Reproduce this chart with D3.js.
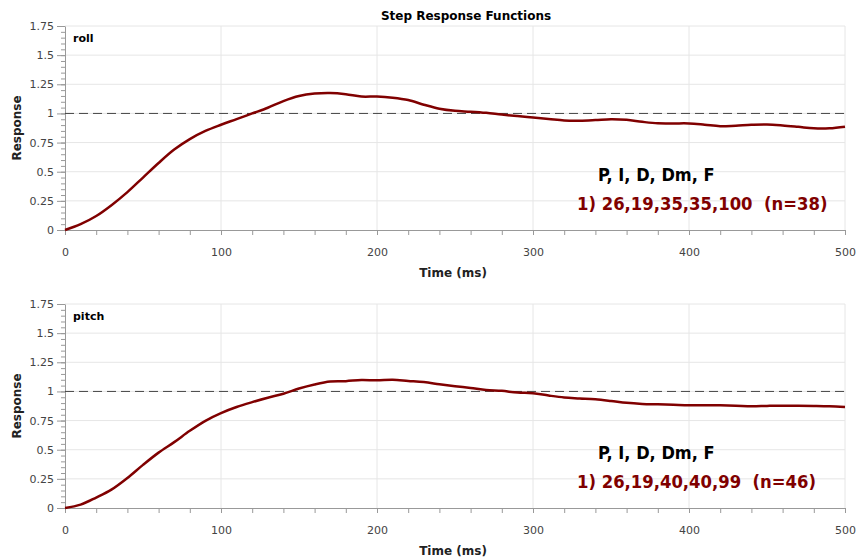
<!DOCTYPE html>
<html>
<head>
<meta charset="utf-8">
<script src="https://cdn.jsdelivr.net/npm/d3@7"></script>
<style>
  body { margin: 0; background: #fff; }
  svg { display: block; font-family: "DejaVu Sans", Verdana, sans-serif; }
</style>
</head>
<body>
<div id="chart"></div>
<script>
// data
var timeMs = d3.range(0, 501, 10);

var rollResponse = [
  0, 0.05, 0.12, 0.215, 0.325, 0.45, 0.575, 0.69, 0.78, 0.85,
  0.903, 0.951, 1.0, 1.049, 1.106, 1.149, 1.17, 1.175, 1.165, 1.145,
  1.145, 1.135, 1.115, 1.075, 1.04, 1.022, 1.015, 1.005, 0.99, 0.977,
  0.965, 0.953, 0.94, 0.938, 0.943, 0.95, 0.945, 0.928, 0.915, 0.914,
  0.914, 0.903, 0.89, 0.895, 0.902, 0.905, 0.897, 0.885, 0.872, 0.872,
  0.886
];

var pitchResponse = [
  0, 0.029, 0.09, 0.16, 0.258, 0.37, 0.475, 0.565, 0.662, 0.748,
  0.814, 0.866, 0.908, 0.946, 0.98, 1.025, 1.06, 1.085, 1.088, 1.098,
  1.095, 1.1, 1.09, 1.08, 1.062, 1.045, 1.03, 1.013, 1.005, 0.99,
  0.985, 0.965, 0.948, 0.94, 0.932, 0.918, 0.902, 0.893, 0.889, 0.885,
  0.881, 0.881, 0.881, 0.878, 0.873, 0.876, 0.878, 0.877, 0.875, 0.872,
  0.866
];

var xTicks = [0, 100, 200, 300, 400, 500];
var yTicks = [0, 0.25, 0.5, 0.75, 1, 1.25, 1.5, 1.75];
var panelNames = ["roll", "pitch"];
var legendHeader = "P, I, D, Dm, F";
var legendRoll = "1) 26,19,35,35,100  (n=38)";
var legendPitch = "1) 26,19,40,40,99  (n=46)";

var width = 857, height = 557;
var lineColor = "#800000";

var svg = d3.select("#chart")
  .append("svg")
  .attr("width", width)
  .attr("height", height);

svg.append("text")
  .attr("x", 466)
  .attr("y", 20)
  .attr("text-anchor", "middle")
  .style("font-size", "12px")
  .style("font-weight", "bold")
  .text("Step Response Functions");

var x = d3.scaleLinear().domain([0, 500]).range([65, 845]);

function drawPanel(values, name, legendText, top) {
  var y = d3.scaleLinear().domain([0, 1.75]).range([top + 204, top]);
  var g = svg.append("g");

  // grid
  g.selectAll(".hgrid")
    .data(yTicks.filter(function (d) { return d > 0; }))
    .enter().append("line")
    .attr("x1", x(0)).attr("x2", x(500))
    .attr("y1", function (d) { return y(d); })
    .attr("y2", function (d) { return y(d); })
    .attr("stroke", "#e6e6e6");
  g.selectAll(".vgrid")
    .data(xTicks.filter(function (d) { return d > 0; }))
    .enter().append("line")
    .attr("y1", y(0)).attr("y2", y(1.75))
    .attr("x1", function (d) { return x(d); })
    .attr("x2", function (d) { return x(d); })
    .attr("stroke", "#e6e6e6");

  // minor ticks
  g.append("g")
    .attr("transform", "translate(" + x(0) + ",0)")
    .call(d3.axisLeft(y).tickValues(d3.range(0, 1.76, 0.05)).tickSize(4).tickFormat("").tickSizeOuter(0))
    .call(function (a) { a.select(".domain").remove(); a.selectAll("line").attr("stroke", "#999"); });

  var yAxis = g.append("g")
    .attr("transform", "translate(" + x(0) + ",0)")
    .call(d3.axisLeft(y).tickValues(yTicks).tickSize(8).tickPadding(3).tickSizeOuter(0)
      .tickFormat(function (d) { return String(d); }));
  yAxis.selectAll("line").attr("stroke", "#999");
  yAxis.select(".domain").attr("stroke", "#999");
  yAxis.selectAll("text").style("font-size", "11px").attr("fill", "#444")
    .style("font-family", "DejaVu Sans, Verdana, sans-serif");

  g.append("g")
    .attr("transform", "translate(0," + y(0) + ")")
    .call(d3.axisBottom(x).tickValues(d3.range(0, 501, 20)).tickSize(5).tickFormat("").tickSizeOuter(0))
    .call(function (a) { a.select(".domain").remove(); a.selectAll("line").attr("stroke", "#999"); });

  var xAxis = g.append("g")
    .attr("transform", "translate(0," + y(0) + ")")
    .call(d3.axisBottom(x).tickValues(xTicks).tickSize(5).tickPadding(13).tickSizeOuter(0));
  xAxis.selectAll("line").attr("stroke", "#999");
  xAxis.select(".domain").attr("stroke", "#999");
  xAxis.selectAll("text").style("font-size", "11px").attr("fill", "#444")
    .style("font-family", "DejaVu Sans, Verdana, sans-serif");

  // reference line at 1
  g.append("line")
    .attr("x1", x(0)).attr("x2", x(500))
    .attr("y1", y(1)).attr("y2", y(1))
    .attr("stroke", "#444")
    .attr("stroke-dasharray", "9,5");

  var line = d3.line()
    .x(function (d, i) { return x(timeMs[i]); })
    .y(function (d) { return y(d); })
    .curve(d3.curveCatmullRom);

  g.append("path")
    .datum(values)
    .attr("d", line)
    .attr("fill", "none")
    .attr("stroke", lineColor)
    .attr("stroke-width", 2.5);

  g.append("text")
    .attr("x", 73).attr("y", top + 16)
    .style("font-size", "11px").style("font-weight", "bold")
    .text(name);

  g.append("text")
    .attr("transform", "translate(21," + (top + 102) + ")rotate(-90)")
    .attr("text-anchor", "middle")
    .style("font-size", "12px").style("font-weight", "bold")
    .attr("fill", "#222")
    .text("Response");

  g.append("text")
    .attr("x", 453).attr("y", top + 251)
    .attr("text-anchor", "middle")
    .style("font-size", "12px").style("font-weight", "bold")
    .attr("fill", "#222")
    .text("Time (ms)");

  g.append("text")
    .attr("x", 598).attr("y", top + 155)
    .style("font-family", "'DejaVu Sans Condensed', 'DejaVu Sans', sans-serif")
    .style("font-stretch", "condensed")
    .style("font-size", "18px").style("font-weight", "bold")
    .text(legendHeader);

  g.append("text")
    .attr("x", 577).attr("y", top + 184)
    .style("font-family", "'DejaVu Sans Condensed', 'DejaVu Sans', sans-serif")
    .style("font-stretch", "condensed")
    .style("font-size", "18.3px").style("font-weight", "bold")
    .attr("fill", lineColor)
    .style("white-space", "pre")
    .attr("xml:space", "preserve")
    .text(legendText);
}

drawPanel(rollResponse, panelNames[0], legendRoll, 26);
drawPanel(pitchResponse, panelNames[1], legendPitch, 304);
</script>
</body>
</html>
